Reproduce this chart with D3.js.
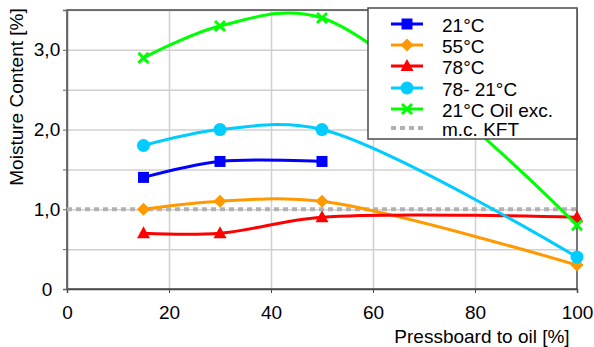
<!DOCTYPE html>
<html>
<head>
<meta charset="utf-8">
<script src="https://cdn.jsdelivr.net/npm/d3@7"></script>
<style>
  body { margin: 0; background: #fff; }
  svg { display: block; font-family: Arial, "Liberation Sans", sans-serif; }
  .grid line { stroke: #d0d0d0; stroke-width: 1.5; }
  .grid path { display: none; }
</style>
</head>
<body>
<div id="chart"></div>
<script>
///// Data

let xValues = [15, 30, 50, 100];
let t21 = [1.4, 1.6, 1.6];
let t55 = [1.0, 1.1, 1.1, 0.3];
let t78 = [0.7, 0.7, 0.9, 0.9];
let t78to21 = [1.8, 2.0, 2.0, 0.4];
let oilExc = [2.9, 3.3, 3.4, 0.8];
let kftValue = 1.0;

let seriesNames = ["21°C", "55°C", "78°C", "78- 21°C", "21°C Oil exc.", "m.c. KFT"];
let seriesColors = ["#0000ff", "#ff9900", "#ff0000", "#00ccff", "#00ff00", "#b2b2b2"];
let seriesMarkers = ["square", "diamond", "triangle", "circle", "cross", "none"];
let seriesValues = [t21, t55, t78, t78to21, oilExc];

let xTicks = [0, 20, 40, 60, 80, 100];
let yTicks = [0, 0.5, 1, 1.5, 2, 2.5, 3, 3.5];

///// Layout

let margin = { top: 10, right: 17, bottom: 58, left: 67 },
    fullWidth = 594, fullHeight = 347,
    width = fullWidth - margin.left - margin.right,
    height = fullHeight - margin.top - margin.bottom;

let x = d3.scaleLinear().domain([0, 100]).range([0, width]);
let y = d3.scaleLinear().domain([0, 3.5]).range([height, 0]);

let svg = d3.select("#chart").append("svg")
    .attr("width", fullWidth)
    .attr("height", fullHeight);

let g = svg.append("g")
    .attr("transform", "translate(" + margin.left + "," + margin.top + ")");

// gridlines
g.append("g")
    .attr("class", "grid")
    .call(d3.axisLeft(y).tickValues(yTicks.slice(1)).tickSize(-width).tickFormat(""));

g.append("g")
    .attr("class", "grid")
    .attr("transform", "translate(0," + height + ")")
    .call(d3.axisBottom(x).tickValues([20, 40, 60, 80]).tickSize(-height).tickFormat(""));

// plot frame
g.append("rect")
    .attr("width", width)
    .attr("height", height)
    .attr("fill", "none")
    .attr("stroke", "#4a4a4a")
    .attr("stroke-width", 1.5);

// axes
let yAxis = g.append("g")
    .call(d3.axisLeft(y).tickValues(yTicks).tickSize(4)
        .tickFormat(d => (d % 1 === 0 ? (d === 0 ? "0" : d3.format(".1f")(d).replace(".", ",")) : "")));
yAxis.select(".domain").attr("stroke", "#666").attr("stroke-width", 1.5);
yAxis.selectAll(".tick line").attr("stroke", "#666");
yAxis.selectAll(".tick text")
    .attr("x", -20)
    .attr("text-anchor", "middle")
    .attr("font-size", 19)
    .attr("font-family", "Arial, 'Liberation Sans', sans-serif")
    .attr("fill", "#000");

let xAxis = g.append("g")
    .attr("transform", "translate(0," + height + ")")
    .call(d3.axisBottom(x).tickValues(xTicks).tickSize(4));
xAxis.select(".domain").attr("stroke", "#4a4a4a").attr("stroke-width", 1.5);
xAxis.selectAll(".tick line").attr("stroke", "#4a4a4a");
xAxis.selectAll(".tick text")
    .attr("y", 17)
    .attr("font-size", 19)
    .attr("font-family", "Arial, 'Liberation Sans', sans-serif")
    .attr("fill", "#000");

// axis titles
svg.append("text")
    .attr("x", 482)
    .attr("y", 343)
    .attr("text-anchor", "middle")
    .attr("font-size", 19)
    .text("Pressboard to oil [%]");

svg.append("text")
    .attr("transform", "rotate(-90)")
    .attr("x", -97)
    .attr("y", 23)
    .attr("text-anchor", "middle")
    .attr("font-size", 19)
    .text("Moisture Content [%]");

///// Marks

// KFT reference line
g.append("line")
    .attr("x1", x(0)).attr("x2", x(100))
    .attr("y1", y(kftValue)).attr("y2", y(kftValue))
    .attr("stroke", seriesColors[5])
    .attr("stroke-width", 4)
    .attr("stroke-dasharray", "5,4");

// smoothed lines
let line = d3.line()
    .x(d => x(d[0]))
    .y(d => y(d[1]))
    .curve(d3.curveCatmullRom.alpha(0.5));

function drawMarker(sel, type, color) {
    if (type === "square") {
        sel.append("rect").attr("x", -5.5).attr("y", -5.5).attr("width", 11).attr("height", 11).attr("fill", color);
    } else if (type === "diamond") {
        sel.append("path").attr("d", "M0,-6.5L6.5,0L0,6.5L-6.5,0Z").attr("fill", color);
    } else if (type === "triangle") {
        sel.append("path").attr("d", "M0,-7L6.5,5L-6.5,5Z").attr("fill", color);
    } else if (type === "circle") {
        sel.append("circle").attr("r", 6.5).attr("fill", color);
    } else if (type === "cross") {
        sel.append("path").attr("d", "M-5,-5L5,5M-5,5L5,-5")
            .attr("stroke", color).attr("stroke-width", 3).attr("fill", "none");
    }
}

seriesValues.forEach(function(vals, i) {
    let pts = vals.map((v, j) => [xValues[j], v]);
    g.append("path")
        .datum(pts)
        .attr("fill", "none")
        .attr("stroke", seriesColors[i])
        .attr("stroke-width", 3)
        .attr("d", line);

    pts.forEach(function(p) {
        let m = g.append("g").attr("transform", "translate(" + x(p[0]) + "," + y(p[1]) + ")");
        drawMarker(m, seriesMarkers[i], seriesColors[i]);
    });
});

///// Legend

let legend = svg.append("g").attr("transform", "translate(368,8)");
legend.append("rect")
    .attr("width", 209)
    .attr("height", 131)
    .attr("fill", "#fff")
    .attr("stroke", "#4a4a4a")
    .attr("stroke-width", 1.5);

let rowY = [16, 37, 58, 80, 101, 120];

seriesNames.forEach(function(name, i) {
    let row = legend.append("g").attr("transform", "translate(0," + rowY[i] + ")");
    if (i === 5) {
        row.append("line")
            .attr("x1", 23).attr("x2", 55)
            .attr("stroke", seriesColors[i])
            .attr("stroke-width", 4)
            .attr("stroke-dasharray", "5,4");
    } else {
        row.append("line")
            .attr("x1", 23).attr("x2", 55)
            .attr("stroke", seriesColors[i])
            .attr("stroke-width", 3);
        let m = row.append("g").attr("transform", "translate(39,0)");
        drawMarker(m, seriesMarkers[i], seriesColors[i]);
    }
    row.append("text")
        .attr("x", 74)
        .attr("y", 1)
        .attr("dy", "0.35em")
        .attr("font-size", 19)
        .text(name);
});
</script>
</body>
</html>
